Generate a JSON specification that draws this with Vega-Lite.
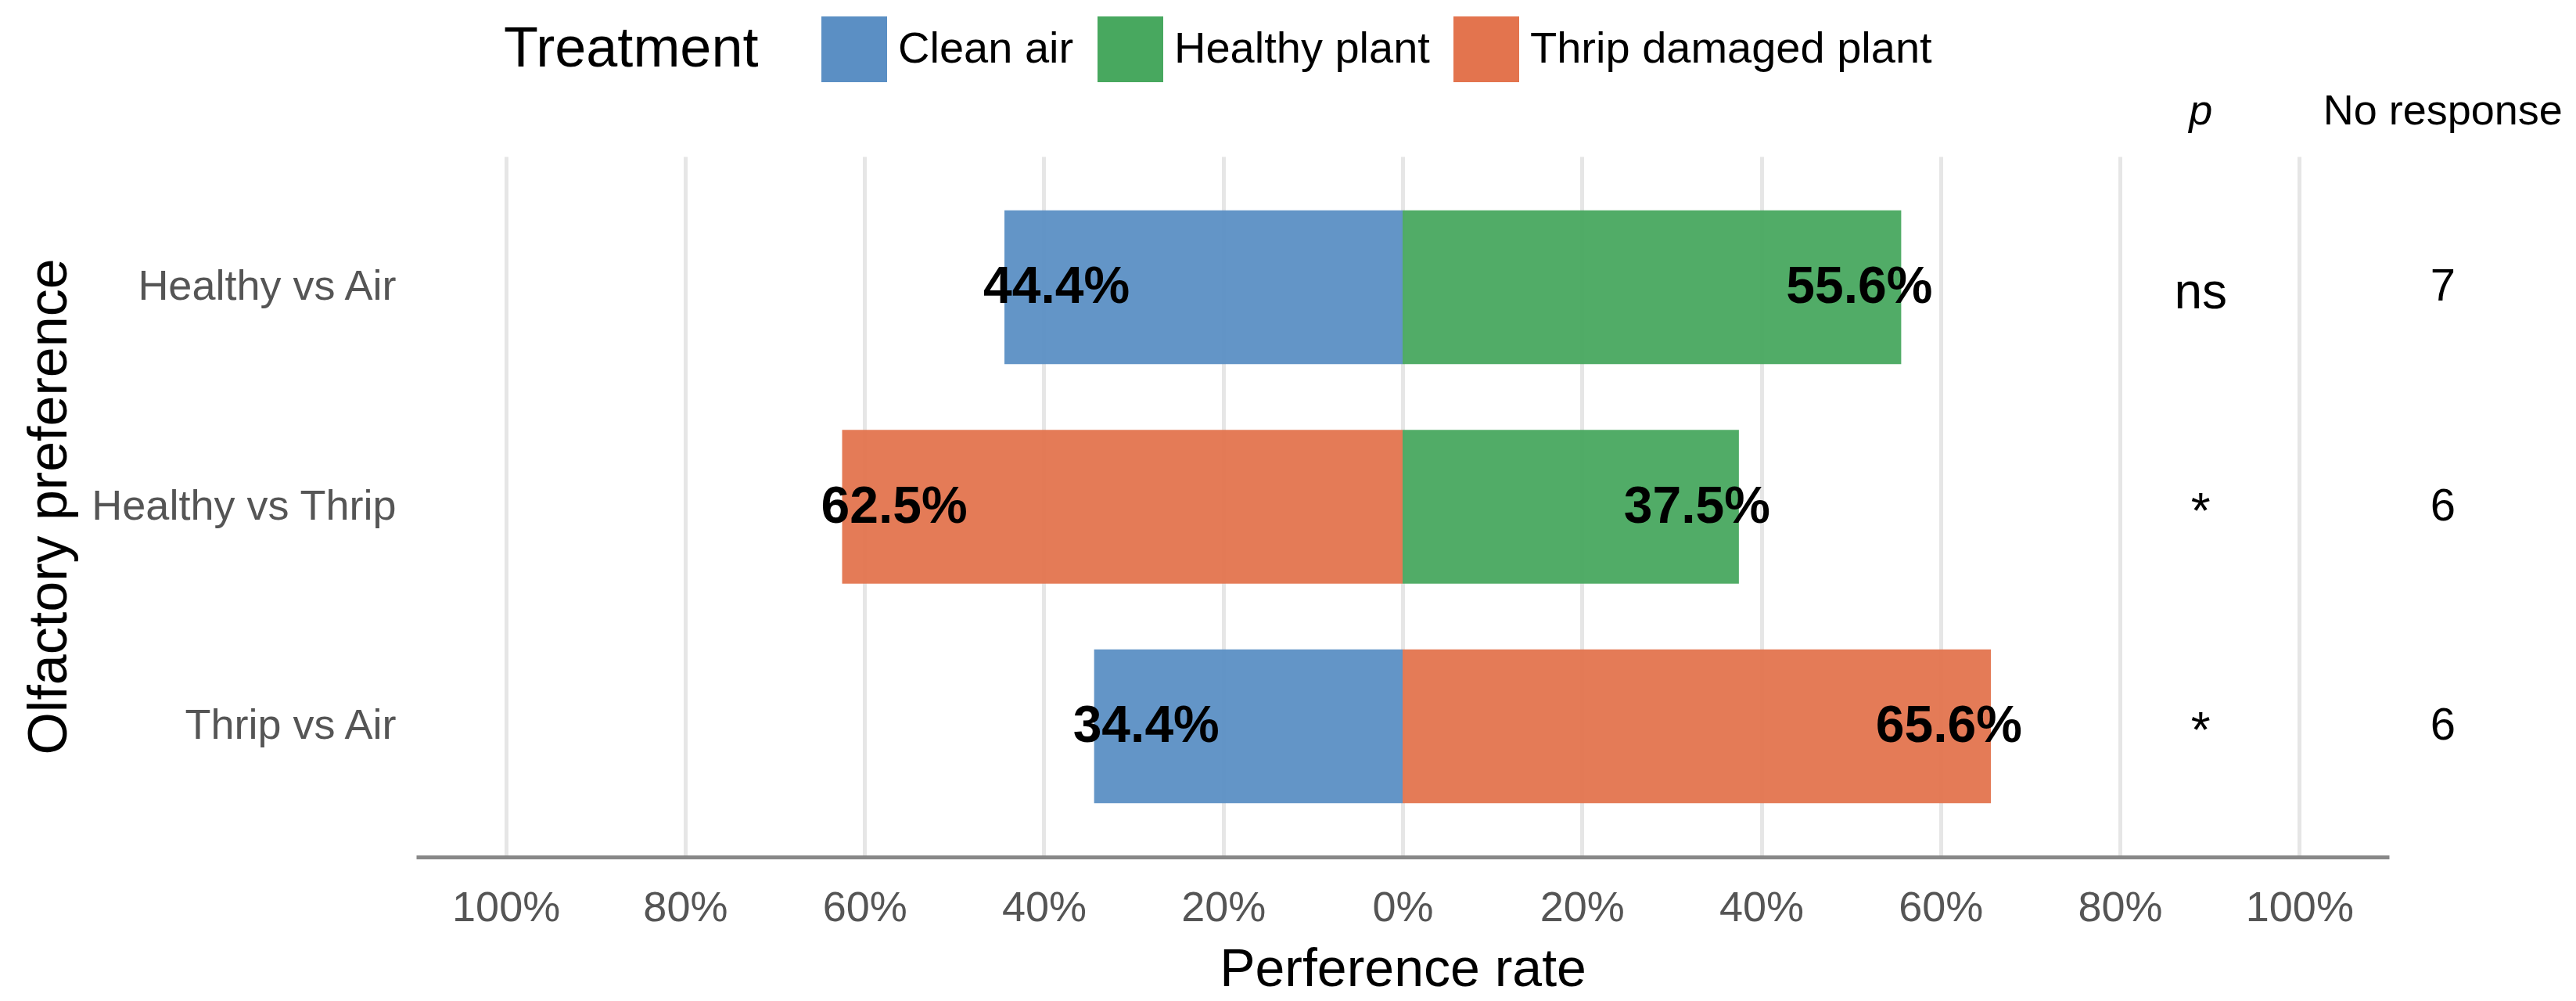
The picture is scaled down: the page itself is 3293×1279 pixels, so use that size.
{
  "$schema": "https://vega.github.io/schema/vega-lite/v6.json",
  "width": 2522,
  "height": 895,
  "autosize": {"type": "none"},
  "padding": {"left": 532, "top": 200, "right": 239, "bottom": 184},
  "background": "white",
  "config": {
    "font": "Liberation Sans",
    "view": {"stroke": null}
  },
  "datasets": {
    "bars": [
      {"comparison": "Healthy vs Air", "treatment": "Clean air", "value": -0.444, "label": "44.4%"},
      {"comparison": "Healthy vs Air", "treatment": "Healthy plant", "value": 0.556, "label": "55.6%"},
      {"comparison": "Healthy vs Thrip", "treatment": "Thrip damaged plant", "value": -0.625, "label": "62.5%"},
      {"comparison": "Healthy vs Thrip", "treatment": "Healthy plant", "value": 0.375, "label": "37.5%"},
      {"comparison": "Thrip vs Air", "treatment": "Clean air", "value": -0.344, "label": "34.4%"},
      {"comparison": "Thrip vs Air", "treatment": "Thrip damaged plant", "value": 0.656, "label": "65.6%"}
    ],
    "stats": [
      {"comparison": "Healthy vs Air", "p": "ns", "nr": "7"},
      {"comparison": "Healthy vs Thrip", "p": "*", "nr": "6"},
      {"comparison": "Thrip vs Air", "p": "*", "nr": "6"}
    ],
    "headers": [
      {"comparison": "Healthy vs Air", "pos": 0.89, "text": "p"},
      {"comparison": "Healthy vs Air", "pos": 1.16, "text": "No response"}
    ]
  },
  "encoding": {
    "y": {
      "field": "comparison",
      "type": "nominal",
      "sort": ["Healthy vs Air", "Healthy vs Thrip", "Thrip vs Air"],
      "scale": {"paddingInner": 0.3, "paddingOuter": 0.245},
      "axis": {
        "title": "Olfactory preference",
        "titleFontSize": 70,
        "titleFontWeight": "normal",
        "titleColor": "black",
        "titleAngle": -90,
        "titleX": -469,
        "titleY": 447,
        "titleAlign": "center",
        "titleBaseline": "middle",
        "titleLimit": 0,
        "labelFontSize": 54,
        "labelColor": "#555555",
        "labelPadding": 26,
        "labelLimit": 0,
        "ticks": false,
        "domain": false,
        "grid": false
      }
    }
  },
  "layer": [
    {
      "data": {"name": "bars"},
      "mark": {"type": "bar", "opacity": 0.95},
      "encoding": {
        "x": {
          "field": "value",
          "type": "quantitative",
          "scale": {"domain": [-1.1, 1.1], "nice": false, "zero": false},
          "axis": {
            "title": "Perference rate",
            "titleFontSize": 68,
            "titleFontWeight": "normal",
            "titleColor": "black",
            "titlePadding": 18,
            "values": [-1, -0.8, -0.6, -0.4, -0.2, 0, 0.2, 0.4, 0.6, 0.8, 1],
            "labelExpr": "format(abs(datum.value), '.0%')",
            "labelFontSize": 54,
            "labelColor": "#555555",
            "labelPadding": 38,
            "ticks": false,
            "domainColor": "#888888",
            "domainWidth": 5,
            "gridColor": "#e6e6e6",
            "gridWidth": 5
          }
        },
        "x2": {"datum": 0},
        "color": {
          "field": "treatment",
          "type": "nominal",
          "scale": {
            "domain": ["Clean air", "Healthy plant", "Thrip damaged plant"],
            "range": ["#5B8FC4", "#48A85F", "#E3744E"]
          },
          "legend": {
            "orient": "none",
            "direction": "horizontal",
            "legendX": 112,
            "legendY": -179,
            "title": "Treatment",
            "titleOrient": "left",
            "titleFontSize": 72,
            "titleFontWeight": "normal",
            "titleColor": "black",
            "titlePadding": 80,
            "titleBaseline": "middle",
            "titleLimit": 0,
            "labelFontSize": 56,
            "labelColor": "black",
            "labelLimit": 0,
            "symbolType": "square",
            "symbolSize": 7056,
            "symbolStrokeWidth": 0,
            "symbolOpacity": 1,
            "columnPadding": 30,
            "labelOffset": 14
          }
        }
      }
    },
    {
      "data": {"name": "bars"},
      "transform": [{"filter": "datum.value < 0"}],
      "mark": {"type": "text", "align": "left", "dx": -27, "fontSize": 66, "fontWeight": "bold", "color": "black"},
      "encoding": {
        "x": {"field": "value", "type": "quantitative"},
        "text": {"field": "label"}
      }
    },
    {
      "data": {"name": "bars"},
      "transform": [{"filter": "datum.value > 0"}],
      "mark": {"type": "text", "align": "right", "dx": 40, "fontSize": 66, "fontWeight": "bold", "color": "black"},
      "encoding": {
        "x": {"field": "value", "type": "quantitative"},
        "text": {"field": "label"}
      }
    },
    {
      "data": {"name": "stats"},
      "mark": {"type": "text", "fontSize": 64, "color": "black", "dy": 8},
      "encoding": {
        "x": {"datum": 0.89},
        "text": {"field": "p"}
      }
    },
    {
      "data": {"name": "stats"},
      "mark": {"type": "text", "fontSize": 58, "color": "black", "clip": false},
      "encoding": {
        "x": {"datum": 1.16},
        "text": {"field": "nr"}
      }
    },
    {
      "data": {"name": "headers"},
      "transform": [{"filter": "datum.text == 'p'"}],
      "mark": {"type": "text", "fontSize": 54, "fontStyle": "italic", "color": "black", "dy": -224},
      "encoding": {
        "x": {"field": "pos", "type": "quantitative"},
        "text": {"field": "text"}
      }
    },
    {
      "data": {"name": "headers"},
      "transform": [{"filter": "datum.text != 'p'"}],
      "mark": {"type": "text", "fontSize": 54, "color": "black", "dy": -224, "clip": false},
      "encoding": {
        "x": {"field": "pos", "type": "quantitative"},
        "text": {"field": "text"}
      }
    },
    {
      "mark": {"type": "rule", "color": "#666666", "strokeWidth": 6},
      "encoding": {"x": {"datum": 0}}
    }
  ]
}
